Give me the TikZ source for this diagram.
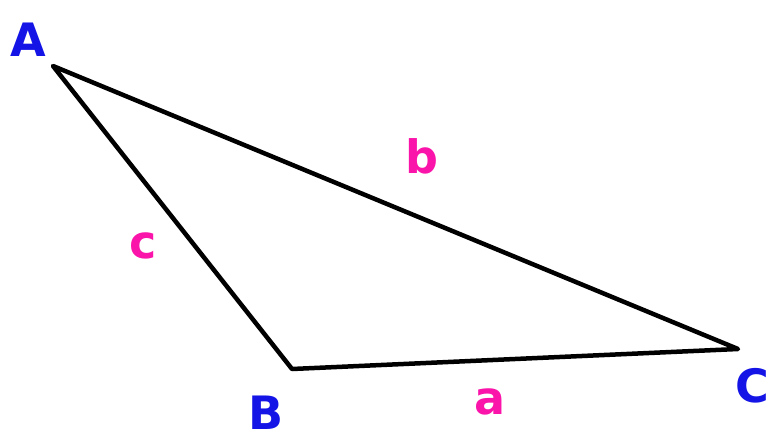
\documentclass[tikz,border=0pt]{standalone}
\usepackage{fontspec}
\setmainfont{DejaVu Sans}
\definecolor{vblue}{RGB}{20,20,230}
\definecolor{smag}{RGB}{250,20,170}
\tikzset{vlabel/.style={text=vblue,font=\fontsize{46}{46}\selectfont\bfseries,inner sep=0pt},
         slabel/.style={text=smag,font=\fontsize{46}{46}\selectfont\bfseries,inner sep=0pt}}

\begin{document}
\begin{tikzpicture}[x=1pt,y=-1pt]
        \useasboundingbox (0,0) rectangle (773,441);
        \coordinate (A) at (53,66);
        \coordinate (B) at (292,369);
        \coordinate (C) at (738,349);
        \draw (28,40) node[vlabel] (LA) {A};
        \draw (266,413) node[vlabel] (LB) {B};
        \draw (752,386) node[vlabel] (LC) {C};
        \draw[line width=4.5pt,line cap=round,line join=round] (A)--(B)--(C)--cycle;
        \draw (422,156) node[slabel] (Lb) {b};
        \draw (143,246) node[slabel] (Lc) {c};
        \draw (490,402) node[slabel] (La) {a};
    \end{tikzpicture}
\end{document}
